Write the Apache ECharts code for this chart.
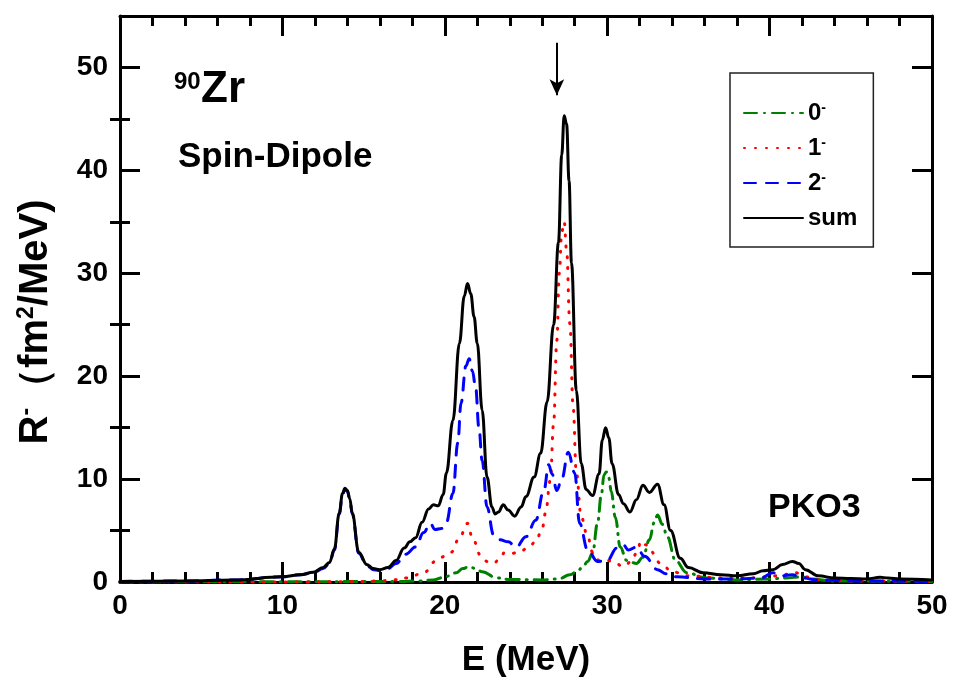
<!DOCTYPE html>
<html>
<head>
<meta charset="utf-8">
<script src="https://cdn.jsdelivr.net/npm/echarts@6/dist/echarts.min.js"></script>
<style>
  html, body { margin: 0; padding: 0; background: #fff; }
  #main { width: 954px; height: 684px; }
</style>
</head>
<body>
<div id="main"></div>
<script>
// 能量 (MeV) 与强度 R- (fm^2/MeV)
const sumE = [0, 4, 7, 10, 11.1, 11.9, 12.5, 12.9, 13.2, 13.5, 13.7, 13.85, 14.0, 14.15, 14.3, 14.7, 15.2, 15.6, 16.0, 16.5, 17.0, 17.5, 17.85, 18.2, 18.6, 19.0, 19.3, 19.6, 19.9, 20.1, 20.5, 20.9, 21.2, 21.4, 21.6, 21.8, 22.0, 22.3, 22.6, 22.9, 23.1, 23.3, 23.6, 23.9, 24.3, 24.7, 25.0, 25.5, 25.9, 26.3, 26.7, 27.0, 27.2, 27.35, 27.5, 27.65, 27.8, 28.1, 28.4, 28.7, 29.1, 29.5, 29.7, 29.9, 30.1, 30.3, 30.7, 31.0, 31.4, 31.8, 32.2, 32.6, 33.1, 33.5, 33.9, 34.5, 35.0, 35.9, 37, 38, 39, 39.6, 40.2, 40.8, 41.4, 41.8, 42.2, 43, 44, 45, 46, 46.8, 47.3, 48, 50];
const sumR = [0.05, 0.1, 0.2, 0.5, 0.7, 0.95, 1.4, 1.9, 3.2, 6.7, 8.6, 9.1, 8.9, 8.1, 6.7, 2.9, 1.7, 1.3, 1.2, 1.4, 2.1, 3.3, 3.9, 4.3, 5.8, 7.1, 7.5, 7.4, 8.5, 10.6, 15.7, 23.2, 27.8, 29.0, 28.0, 25.8, 23.2, 16.7, 10.2, 7.3, 6.6, 6.8, 7.5, 7.0, 6.4, 7.3, 8.3, 10.2, 12.5, 17.5, 25, 33, 41.5, 45.3, 44.5, 39, 31, 18.6, 11.5, 9.0, 8.4, 10.5, 13.8, 15.0, 14.0, 11.5, 8.5, 7.6, 6.8, 8.0, 9.4, 8.7, 9.5, 7.5, 5.0, 2.3, 1.4, 0.9, 0.7, 0.6, 0.8, 1.1, 1.2, 1.7, 2.0, 1.8, 1.2, 0.6, 0.4, 0.35, 0.3, 0.45, 0.4, 0.3, 0.2];

const j0E = [0, 10, 17, 18.5, 19.3, 20.0, 20.7, 21.1, 21.5, 21.9, 22.3, 23.2, 24, 26, 27, 27.7, 28.2, 28.5, 28.8, 29.1, 29.4, 29.65, 29.8, 29.95, 30.1, 30.25, 30.5, 30.8, 31.2, 31.8, 32.2, 32.6, 32.9, 33.1, 33.4, 33.7, 34.2, 34.9, 36.1, 38, 40, 41, 42, 42.5, 44, 50];
const j0R = [0, 0.02, 0.05, 0.1, 0.2, 0.5, 0.9, 1.3, 1.5, 1.3, 1.0, 0.4, 0.25, 0.2, 0.3, 0.7, 1.1, 1.5, 2.0, 2.8, 5.7, 8.6, 10.4, 10.7, 10.1, 8.8, 6.3, 3.4, 2.1, 1.8, 2.4, 4.1, 5.8, 6.5, 5.6, 4.4, 2.1, 0.9, 0.4, 0.2, 0.3, 0.4, 0.5, 0.3, 0.1, 0.05];

const j1E = [0, 12, 15, 16, 16.8, 17.7, 18.7, 19.5, 20.0, 20.4, 20.9, 21.4, 21.7, 22.2, 22.6, 23.0, 23.4, 23.7, 24.2, 24.6, 25.1, 25.6, 26.0, 26.2, 26.5, 26.7, 26.9, 27.05, 27.2, 27.35, 27.5, 27.7, 27.9, 28.1, 28.4, 28.8, 29.1, 29.5, 30.0, 30.5, 31.0, 31.5, 31.8, 32.1, 32.4, 32.6, 33.3, 34, 35, 37, 39, 40.5, 41.6, 42.2, 43, 45, 50];
const j1R = [0, 0.01, 0.05, 0.1, 0.2, 0.4, 0.9, 2.1, 2.5, 2.9, 4.3, 5.7, 4.3, 2.6, 2.0, 1.8, 2.3, 2.9, 2.8, 2.9, 3.3, 3.9, 5.2, 6.7, 9.9, 15.4, 23.5, 30.0, 34.0, 35.0, 32.2, 25.1, 17.0, 10.6, 6.3, 4.4, 2.9, 2.1, 2.1, 1.8, 1.5, 2.0, 2.8, 4.0, 3.6, 3.1, 1.8, 1.0, 0.6, 0.4, 0.4, 0.6, 0.9, 0.5, 0.2, 0.1, 0.05];

const j2E = [0, 4, 7, 10, 11.1, 11.9, 12.5, 12.9, 13.2, 13.5, 13.7, 13.85, 14.0, 14.15, 14.3, 14.7, 15.2, 15.6, 16.0, 16.5, 17.0, 17.6, 18.2, 18.7, 19.1, 19.4, 19.8, 20.1, 20.5, 20.8, 21.0, 21.3, 21.5, 21.7, 21.9, 22.1, 22.3, 22.6, 23.0, 23.4, 23.9, 24.4, 25.0, 25.6, 26.1, 26.4, 26.6, 26.9, 27.2, 27.6, 28.0, 28.3, 28.8, 29.4, 30.0, 30.6, 31.0, 31.3, 31.8, 32.3, 33.1, 33.6, 34.3, 36, 38, 39.5, 40.2, 40.7, 41.4, 42, 43, 46, 50];
const j2R = [0.05, 0.1, 0.2, 0.5, 0.7, 0.9, 1.3, 1.8, 3.1, 6.6, 8.5, 9.0, 8.8, 8.0, 6.6, 2.8, 1.6, 1.2, 1.1, 1.3, 1.8, 2.7, 3.4, 4.8, 5.7, 5.1, 5.2, 5.8, 8.6, 13.5, 17.4, 21.0, 21.7, 20.5, 18.9, 15, 11.8, 7.3, 4.6, 4.1, 3.9, 3.4, 4.4, 6.0, 8.9, 11.4, 10.5, 8.9, 10, 12.6, 10.6, 5.7, 3.1, 2.0, 2.1, 3.3, 3.6, 3.1, 3.4, 2.5, 1.2, 0.8, 0.5, 0.3, 0.3, 0.4, 0.9, 0.6, 0.7, 0.4, 0.2, 0.1, 0.05];

const yMajor = [0, 10, 20, 30, 40, 50];
const yMinor = [5, 15, 25, 35, 45];
const arrowE = 26.9;
const arrowFrom = 52.4;
const arrowTo = 47.3;

const zip = (a, b) => a.map((v, i) => [v, b[i]]);

const FONT = '"Liberation Sans", Arial, sans-serif';

let chart = echarts.init(document.getElementById('main'));

const axisLine = { show: true, onZero: false, lineStyle: { color: '#000', width: 3 } };

function xAx(pos, labels) {
    return {
        type: 'value', position: pos, min: 0, max: 50, interval: 10,
        axisLine: axisLine,
        axisTick: { show: true, inside: true, length: 20, lineStyle: { color: '#000', width: 3 } },
        minorTick: { show: true, splitNumber: 5, length: 10, lineStyle: { color: '#000', width: 3 } },
        splitLine: { show: false },
        axisLabel: labels ? { show: true, margin: 10, color: '#000', fontSize: 28, fontWeight: 'bold', fontFamily: FONT } : { show: false },
        name: labels ? 'E (MeV)' : '',
        nameLocation: 'middle',
        nameGap: 61,
        nameTextStyle: { color: '#000', fontSize: 35, fontWeight: 'bold', fontFamily: FONT }
    };
}

function yAx(pos, major, labels) {
    let ax = {
        type: 'value', position: pos, min: 0, max: 55,
        axisLine: major ? axisLine : { show: false },
        axisTick: {
            show: true, inside: true, length: major ? 20 : 10,
            customValues: major ? yMajor : yMinor,
            lineStyle: { color: '#000', width: 3 }
        },
        splitLine: { show: false },
        axisLabel: labels ? {
            show: true, customValues: yMajor, margin: 12, color: '#000',
            fontSize: 28, fontWeight: 'bold', fontFamily: FONT
        } : { show: false }
    };
    if (labels) {
        ax.name = '{a|R}{s|-}{a|（fm}{s|2}{a|/MeV)}';
        ax.nameLocation = 'middle';
        ax.nameRotate = 90;
        ax.nameGap = 63;
        ax.nameTextStyle = {
            color: '#000', fontWeight: 'bold', fontFamily: FONT,
            padding: [0, 46, 0, 0],
            rich: {
                a: { fontSize: 40, fontWeight: 'bold', fontFamily: FONT, color: '#000', lineHeight: 42 },
                s: { fontSize: 23, fontWeight: 'bold', fontFamily: FONT, color: '#000', verticalAlign: 'top', lineHeight: 42 }
            }
        };
    }
    return ax;
}

function lineSeries(name, data, color, dash) {
    return {
        name: name, type: 'line', data: data,
        xAxisIndex: 0, yAxisIndex: 0,
        showSymbol: false, symbol: 'none',
        smooth: 0.4, smoothMonotone: 'x',
        lineStyle: { color: color, width: 3, type: dash, cap: 'round' },
        itemStyle: { color: color },
        z: 3
    };
}

let series = [
    lineSeries('0-', zip(j0E, j0R), '#008000', [13, 7, 1, 7]),
    lineSeries('1-', zip(j1E, j1R), '#ff0000', [1, 10]),
    lineSeries('2-', zip(j2E, j2R), '#0000ff', [12, 10]),
    lineSeries('sum', zip(sumE, sumR), '#000000', 'solid')
];
series[3].markLine = {
    silent: true,
    symbol: ['none', 'arrow'],
    symbolSize: [11, 16],
    label: { show: false },
    lineStyle: { color: '#000', width: 2, type: 'solid' },
    data: [[{ coord: [arrowE, arrowFrom] }, { coord: [arrowE, arrowTo] }]]
};

let option = {
    animation: false,
    backgroundColor: '#fff',
    grid: { left: 120, right: 22, top: 16, bottom: 102 },
    xAxis: [xAx('bottom', true), xAx('top', false)],
    yAxis: [yAx('left', true, true), yAx('left', false, false), yAx('right', true, false), yAx('right', false, false)],
    legend: {
        orient: 'vertical',
        left: 730, top: 73,
        padding: [28, 16, 17, 13],
        borderColor: '#222', borderWidth: 1.5,
        itemWidth: 59, itemHeight: 14, itemGap: 11,
        itemStyle: { opacity: 0 },
        data: ['0-', '1-', '2-', 'sum'],
        formatter: function (name) {
            if (name === 'sum') return '{b|sum}';
            return '{b|' + name[0] + '}{s|-}';
        },
        textStyle: {
            rich: {
                b: { fontSize: 24, fontWeight: 'bold', fontFamily: FONT, color: '#000', lineHeight: 24 },
                s: { fontSize: 14, fontWeight: 'bold', fontFamily: FONT, color: '#000', verticalAlign: 'top', lineHeight: 24 }
            }
        }
    },
    graphic: [
        { type: 'text', left: 174, top: 70, style: { text: '90', font: 'bold 24px ' + FONT, fill: '#000' } },
        { type: 'text', left: 201, top: 68, style: { text: 'Zr', font: 'bold 44px ' + FONT, fill: '#000' } },
        { type: 'text', left: 178, top: 140, style: { text: 'Spin-Dipole', font: 'bold 35px ' + FONT, fill: '#000' } },
        { type: 'text', left: 768, top: 491, style: { text: 'PKO3', font: 'bold 34px ' + FONT, fill: '#000' } }
    ],
    series: series
};

chart.setOption(option);
</script>
</body>
</html>
